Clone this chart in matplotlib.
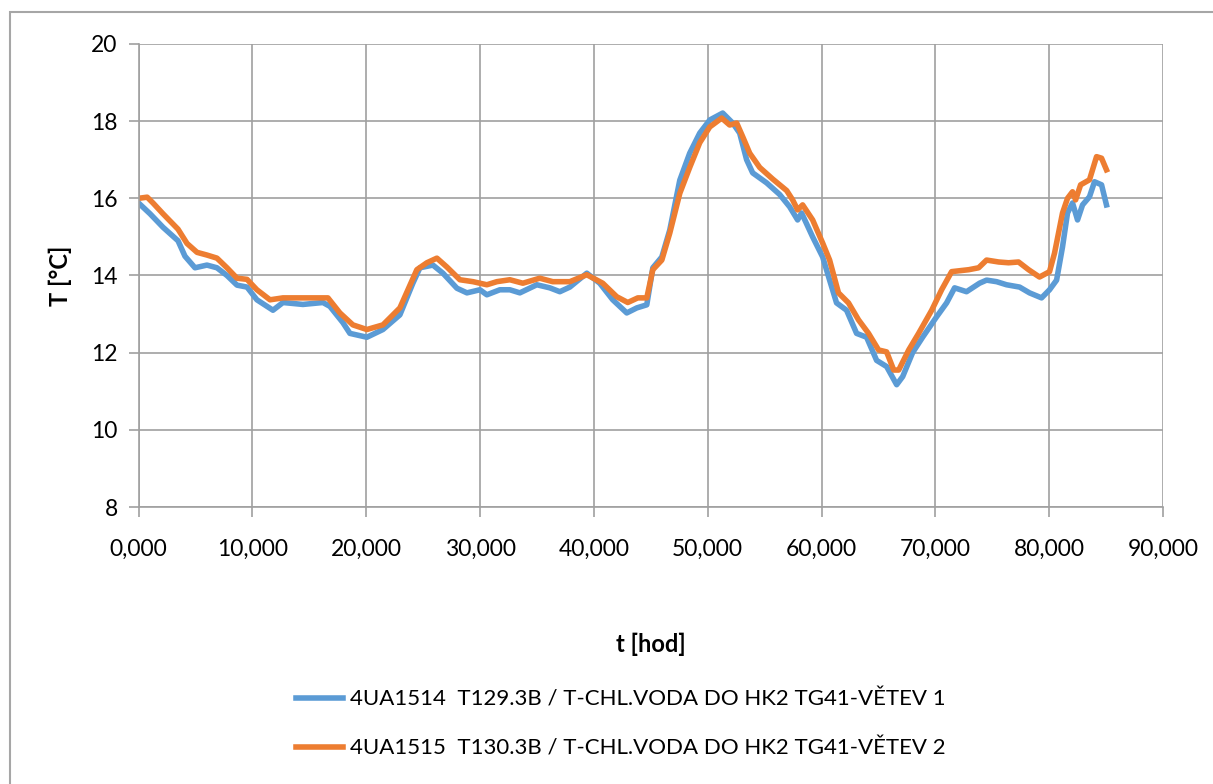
import matplotlib
matplotlib.use("Agg")
import matplotlib.pyplot as plt
from matplotlib.patches import Rectangle
from matplotlib.ticker import FuncFormatter

# time [hod] and temperature [°C]
t_vetev1 = [0.0, 1.01, 2.15, 3.47, 4.08, 4.96, 6.01, 6.89, 7.77, 8.65, 9.53, 10.40,
            11.81, 12.69, 14.44, 16.20, 16.81, 17.95, 18.57, 20.06, 21.47, 22.96,
            24.10, 24.72, 25.86, 26.74, 27.97, 28.85, 29.99, 30.60, 31.74, 32.62,
            33.50, 34.99, 36.13, 37.01, 37.89, 39.38, 40.52, 41.66, 42.89, 43.77,
            44.65, 45.18, 45.97, 46.67, 47.55, 48.42, 49.30, 50.18, 51.32, 52.20,
            52.81, 53.42, 53.95, 55.18, 56.32, 57.20, 57.90, 58.25, 59.22, 60.10,
            60.71, 61.32, 62.20, 63.08, 63.96, 64.84, 65.72, 66.60, 67.13, 68.00,
            68.88, 70.11, 70.99, 71.69, 72.74, 73.88, 74.50, 75.38, 76.25, 77.40,
            78.27, 79.33, 80.03, 80.65, 81.17, 81.61, 82.05, 82.49, 82.93, 83.54,
            83.98, 84.60, 85.03]
T_vetev1 = [15.88, 15.60, 15.25, 14.90, 14.50, 14.20, 14.27, 14.20, 14.00, 13.75, 13.70, 13.37,
            13.10, 13.30, 13.25, 13.30, 13.20, 12.78, 12.50, 12.40, 12.60, 12.98,
            13.80, 14.20, 14.27, 14.06, 13.67, 13.55, 13.63, 13.50, 13.63, 13.63,
            13.55, 13.76, 13.68, 13.58, 13.70, 14.06, 13.80, 13.37, 13.03, 13.16,
            13.24, 14.20, 14.48, 15.18, 16.47, 17.17, 17.69, 18.03, 18.21, 17.95,
            17.69, 17.00, 16.66, 16.40, 16.10, 15.78, 15.44, 15.62, 15.00, 14.48,
            13.88, 13.29, 13.10, 12.50, 12.40, 11.80, 11.64, 11.17, 11.38, 12.00,
            12.40, 12.93, 13.29, 13.68, 13.58, 13.80, 13.88, 13.84, 13.76, 13.70,
            13.55, 13.42, 13.63, 13.88, 14.74, 15.62, 15.88, 15.44, 15.83, 16.04,
            16.43, 16.35, 15.83]

t_vetev2 = [0.0, 0.76, 1.27, 2.15, 3.47, 4.26, 5.14, 6.01, 6.89, 7.77, 8.65, 9.53,
            10.40, 11.55, 12.69, 14.44, 16.64, 17.69, 18.83, 20.06, 21.47, 22.96,
            24.45, 25.33, 26.21, 27.09, 28.23, 29.38, 30.60, 31.48, 32.62, 33.76,
            35.25, 36.39, 37.89, 39.38, 40.78, 42.01, 42.98, 43.86, 44.65, 45.18,
            45.97, 46.67, 47.55, 48.42, 49.30, 50.18, 51.23, 51.93, 52.55, 53.07,
            53.69, 54.57, 55.71, 56.94, 57.46, 57.90, 58.34, 59.22, 60.10, 60.71,
            61.49, 62.37, 63.25, 64.13, 65.01, 65.72, 66.34, 66.78, 67.66, 68.53,
            69.68, 70.55, 71.43, 72.93, 73.80, 74.50, 75.56, 76.43, 77.31, 78.19,
            79.15, 80.03, 80.47, 81.17, 81.61, 82.05, 82.32, 82.76, 83.54, 84.16,
            84.60, 85.03]
T_vetev2 = [16.00, 16.03, 15.88, 15.60, 15.20, 14.83, 14.60, 14.53, 14.45, 14.20, 13.93, 13.90,
            13.63, 13.37, 13.42, 13.42, 13.42, 13.03, 12.72, 12.60, 12.72, 13.16,
            14.15, 14.33, 14.45, 14.22, 13.89, 13.84, 13.76, 13.84, 13.89, 13.80,
            13.93, 13.84, 13.84, 14.02, 13.80, 13.45, 13.30, 13.42, 13.42, 14.15,
            14.40, 15.10, 16.13, 16.80, 17.44, 17.85, 18.08, 17.90, 17.95, 17.60,
            17.17, 16.80, 16.50, 16.20, 15.96, 15.70, 15.83, 15.44, 14.84, 14.40,
            13.55, 13.29, 12.85, 12.50, 12.07, 12.02, 11.55, 11.55, 12.07, 12.50,
            13.10, 13.63, 14.10, 14.15, 14.20, 14.40, 14.35, 14.33, 14.35, 14.15,
            13.96, 14.10, 14.58, 15.62, 16.00, 16.17, 15.96, 16.35, 16.48, 17.08,
            17.04, 16.74]

labels = ["4UA1514  T129.3B / T-CHL.VODA DO HK2 TG41-VĚTEV 1",
          "4UA1515  T130.3B / T-CHL.VODA DO HK2 TG41-VĚTEV 2"]
colors = ["#5B9BD5", "#ED7D31"]

plt.rcParams['font.family'] = ['Lato', 'DejaVu Sans']

fig = plt.figure(figsize=(12.13, 7.84), dpi=100)
ax = fig.add_axes([0.1142, 0.3533, 0.9588 - 0.1142, 0.9439 - 0.3533])

ax.plot(t_vetev1, T_vetev1, color=colors[0], lw=4, label=labels[0], solid_joinstyle='round')
ax.plot(t_vetev2, T_vetev2, color=colors[1], lw=4, label=labels[1], solid_joinstyle='round')

ax.set_xlim(0, 90)
ax.set_ylim(8, 20)
ax.set_xticks(range(0, 91, 10))
ax.set_yticks(range(8, 21, 2))
ax.xaxis.set_major_formatter(FuncFormatter(lambda v, p: f"{v:.3f}".replace('.', ',')))
ax.grid(True, color='#a0a0a0', lw=1.2)
ax.set_axisbelow(True)
for s in ['top', 'right']:
    ax.spines[s].set_visible(False)
for s in ['left', 'bottom']:
    ax.spines[s].set_color('#a0a0a0')
    ax.spines[s].set_linewidth(1.2)
ax.tick_params(colors='#a0a0a0', labelcolor='black', length=7, width=1.2, labelsize=16.5)
ax.tick_params(axis='x', pad=16)
ax.tick_params(axis='y', pad=8)

ax.set_xlabel("t [hod]", fontsize=17, fontweight='bold', labelpad=52)
ax.set_ylabel("T [°C]", fontsize=17, fontweight='bold', labelpad=14)

fig.legend(loc='center', bbox_to_anchor=(0.512, 0.076), frameon=False, fontsize=16,
           handlelength=2.1, labelspacing=1.3, handletextpad=0.35)

fig.patches.append(Rectangle((10 / 1213, -0.05), 1.1, 1 - 12 / 784 + 0.05,
                             transform=fig.transFigure, fill=False,
                             edgecolor='#a6a6a6', lw=1.5))

fig.savefig("out.png", dpi=100)
